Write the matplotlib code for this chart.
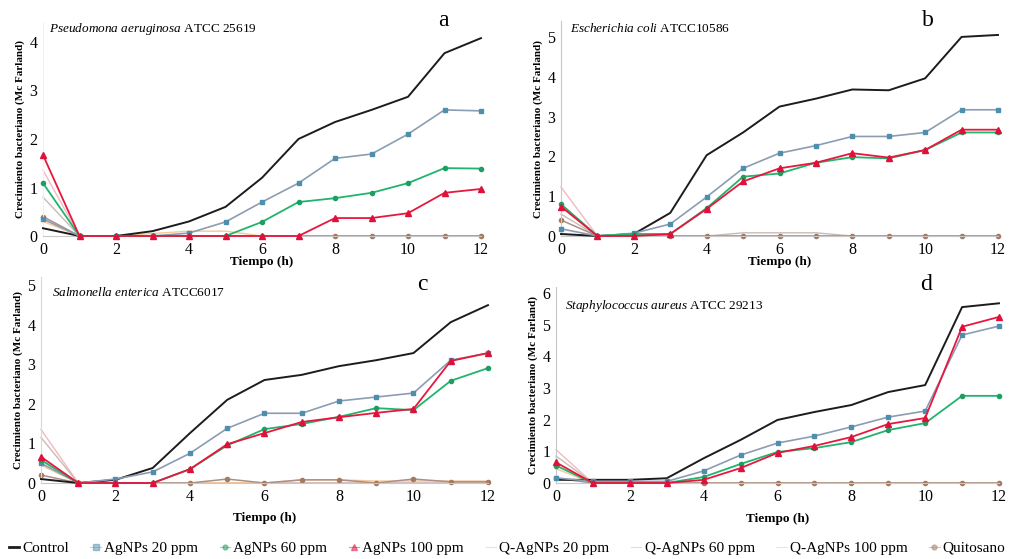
import matplotlib

matplotlib.use("Agg")

import matplotlib.pyplot as plt
from matplotlib.lines import Line2D

plt.rcParams["font.family"] = ["Liberation Serif", "DejaVu Serif"]
plt.rcParams["mathtext.fontset"] = "custom"
plt.rcParams["mathtext.rm"] = "Liberation Serif"
plt.rcParams["mathtext.it"] = "Liberation Serif:italic"

hours = list(range(13))
series_names = [
    "Control", "AgNPs 20 ppm", "AgNPs 60 ppm", "AgNPs 100 ppm",
    "Q-AgNPs 20 ppm", "Q-AgNPs 60 ppm", "Q-AgNPs 100 ppm", "Quitosano",
]

# panel a - Pseudomona aeruginosa
a_control = [0.16, 0, 0, 0.1, 0.3, 0.6, 1.2, 2.0, 2.35, 2.6, 2.87, 3.77, 4.08]
a_ag20 = [0.35, 0, 0, 0, 0.06, 0.29, 0.7, 1.09, 1.6, 1.69, 2.1, 2.6, 2.58]
a_ag60 = [1.09, 0, 0, 0, 0, 0, 0.29, 0.7, 0.78, 0.89, 1.09, 1.4, 1.39]
a_ag100 = [1.67, 0, 0, 0, 0, 0, 0, 0, 0.37, 0.37, 0.47, 0.89, 0.97]
a_q20 = [1.36, 0, 0, 0, 0, 0, 0, 0, 0, 0, 0, 0, 0]
a_q60 = [0.8, 0, 0, 0, 0, 0, 0, 0, 0, 0, 0, 0, 0]
a_q100 = [0.3, 0, 0, 0.05, 0.1, 0.1, 0, 0, 0, 0, 0, 0, 0]
a_quito = [0.4, 0, 0, 0, 0, 0, 0, 0, 0, 0, 0, 0, 0]

# panel b - Escherichia coli
b_control = [0.05, 0, 0.05, 0.58, 2.03, 2.6, 3.25, 3.45, 3.68, 3.66, 3.96, 5.0, 5.05]
b_ag20 = [0.18, 0, 0.07, 0.3, 0.98, 1.7, 2.08, 2.27, 2.5, 2.5, 2.6, 3.17, 3.17]
b_ag60 = [0.8, 0, 0.05, 0.05, 0.7, 1.49, 1.57, 1.84, 1.98, 1.95, 2.16, 2.6, 2.6]
b_ag100 = [0.74, 0, 0, 0.05, 0.68, 1.37, 1.7, 1.84, 2.08, 1.97, 2.16, 2.67, 2.67]
b_q20 = [1.23, 0, 0, 0, 0, 0, 0, 0, 0, 0, 0, 0, 0]
b_q60 = [0.55, 0, 0, 0, 0, 0.08, 0.08, 0.08, 0, 0, 0, 0, 0]
b_q100 = [0.05, 0, 0, 0, 0, 0, 0, 0, 0, 0, 0, 0, 0]
b_quito = [0.4, 0, 0, 0, 0, 0, 0, 0, 0, 0, 0, 0, 0]

# panel c - Salmonella enterica
c_control = [0.1, 0, 0.08, 0.38, 1.26, 2.1, 2.6, 2.73, 2.95, 3.1, 3.28, 4.06, 4.49]
c_ag20 = [0.5, 0, 0.1, 0.28, 0.75, 1.38, 1.76, 1.76, 2.07, 2.17, 2.27, 3.1, 3.28]
c_ag60 = [0.58, 0, 0, 0, 0.35, 0.95, 1.36, 1.49, 1.67, 1.89, 1.84, 2.58, 2.9]
c_ag100 = [0.66, 0, 0, 0, 0.35, 0.98, 1.26, 1.54, 1.66, 1.77, 1.87, 3.08, 3.28]
c_q20 = [1.35, 0, 0, 0, 0, 0, 0, 0, 0, 0, 0, 0, 0]
c_q60 = [1.15, 0, 0, 0, 0, 0, 0, 0, 0, 0, 0, 0, 0]
c_q100 = [0.45, 0, 0, 0, 0, 0, 0, 0.08, 0.08, 0.05, 0.05, 0.05, 0.05]
c_quito = [0.2, 0, 0, 0, 0, 0.1, 0, 0.08, 0.08, 0, 0.1, 0.03, 0.03]

# panel d - Staphylococcus aureus
d_control = [0.1, 0.1, 0.1, 0.15, 0.78, 1.36, 1.99, 2.24, 2.46, 2.87, 3.09, 5.55, 5.67]
d_ag20 = [0.16, 0.05, 0.05, 0.05, 0.38, 0.88, 1.26, 1.48, 1.77, 2.08, 2.27, 4.67, 4.95]
d_ag60 = [0.55, 0, 0, 0, 0.19, 0.6, 0.98, 1.1, 1.29, 1.67, 1.89, 2.75, 2.75]
d_ag100 = [0.65, 0, 0, 0, 0.1, 0.47, 0.95, 1.17, 1.45, 1.86, 2.05, 4.93, 5.24]
d_q20 = [1.05, 0, 0, 0, 0, 0, 0, 0, 0, 0, 0, 0, 0]
d_q60 = [0.85, 0, 0, 0, 0, 0, 0, 0, 0, 0, 0, 0, 0]
d_q100 = [0.45, 0, 0, 0, 0, 0, 0, 0, 0, 0, 0, 0, 0]
d_quito = [0.15, 0, 0, 0, 0, 0, 0, 0, 0, 0, 0, 0, 0]

panels = [
    ("a", r"$\mathit{Pseudomona\ aeruginosa}$ ATCC 25619",
     [a_control, a_ag20, a_ag60, a_ag100, a_q20, a_q60, a_q100, a_quito], 4.4, [0, 1, 2, 3, 4]),
    ("b", r"$\mathit{Escherichia\ coli}$ ATCC10586",
     [b_control, b_ag20, b_ag60, b_ag100, b_q20, b_q60, b_q100, b_quito], 5.4, [0, 1, 2, 3, 4, 5]),
    ("c", r"$\mathit{Salmonella\ enterica}$ ATCC6017",
     [c_control, c_ag20, c_ag60, c_ag100, c_q20, c_q60, c_q100, c_quito], 5.2, [0, 1, 2, 3, 4, 5]),
    ("d", r"$\mathit{Staphylococcus\ aureus}$ ATCC 29213",
     [d_control, d_ag20, d_ag60, d_ag100, d_q20, d_q60, d_q100, d_quito], 6.2, [0, 1, 2, 3, 4, 5, 6]),
]

# line colour, marker, marker colour, marker size, line width
styles = [
    ("#1c1c1c", None, None, 0, 1.4),
    ("#8b9db3", "s", "#4f8fae", 3.5, 1.2),
    ("#20b46c", "o", "#1e9e62", 3.0, 1.3),
    ("#e8173e", "^", "#e0103a", 4.0, 1.3),
    ("#f3b9c4", None, None, 0, 1.0),
    ("#cbbab2", None, None, 0, 1.0),
    ("#f5c895", None, None, 0, 1.0),
    ("#a89088", "o", "#a57a62", 3.0, 1.1),
]

W, H = 1014, 559
# axes boxes in pixels: left, right, bottom (y of zero), top
boxes = [(43, 481, 236, 22.6), (561, 998, 236, 21), (41, 488, 483, 277), (556, 999, 483, 286.5)]
letter_pos = [(443, 20), (928, 20), (422, 285), (926, 285)]
title_pos = [(49, 29), (570, 28), (52, 292), (565, 306)]
xlabel_pads = [-1, -1, 5, 6]
left_spine = ["#f0f0f0", "#c8c8c8", "#d8d8d8", "#c8c8c8"]

fig = plt.figure(figsize=(W / 100, H / 100), dpi=100)

for k, (letter, title, data, ymax, yticks) in enumerate(panels):
    l, r, b, t = boxes[k]
    ax = fig.add_axes([l / W, 1 - b / H, (r - l) / W, (b - t) / H])
    # draw faint series first so the main series stay on top
    for i in [4, 5, 6, 7, 0, 1, 2, 3]:
        color, marker, mcolor, ms, lw = styles[i]
        ax.plot(hours, data[i], color=color, lw=lw, marker=marker, ms=ms,
                mfc=mcolor, mec=mcolor, clip_on=False, zorder=3 if i < 4 else 2)
    ax.set_xlim(0, 12)
    ax.set_ylim(0, ymax)
    ax.set_xticks([0, 2, 4, 6, 8, 10, 12])
    ax.set_yticks(yticks)
    ax.tick_params(length=0, labelsize=11.5, pad=4)
    for side in ["top", "right"]:
        ax.spines[side].set_visible(False)
    ax.spines["bottom"].set_color("#c8c8c8")
    ax.spines["left"].set_color(left_spine[k])
    for side in ["left", "bottom"]:
        ax.spines[side].set_linewidth(0.8)
    ax.set_ylabel("Crecimiento bacteriano (Mc Farland)", fontsize=8, fontweight="bold", labelpad=3)
    ax.set_xlabel("Tiempo (h)", fontsize=9.5, fontweight="bold", labelpad=xlabel_pads[k])
    fig.text(letter_pos[k][0] / W, 1 - letter_pos[k][1] / H, letter, fontsize=17,
             ha="center", va="center")
    fig.text(title_pos[k][0] / W, 1 - title_pos[k][1] / H, title, fontsize=9.5,
             ha="left", va="center")

handles = []
for i, name in enumerate(series_names):
    color, marker, mcolor, ms, lw = styles[i]
    if i == 0:
        h = Line2D([], [], color=color, lw=2)
    elif marker is None:
        h = Line2D([], [], color=color, lw=0.8, alpha=0.5)
    else:
        h = Line2D([], [], color=color, lw=0.8, alpha=0.5, marker=marker, ms=ms + 0.5,
                   mfc=mcolor, mec=mcolor)
    handles.append(h)

fig.legend(handles, series_names, loc="center", bbox_to_anchor=(0.5, 1 - 548 / H), ncol=8,
           frameon=False, fontsize=11, handlelength=0.7, handletextpad=0.2,
           columnspacing=1.4, borderaxespad=0)

fig.savefig("out.png", dpi=100)
